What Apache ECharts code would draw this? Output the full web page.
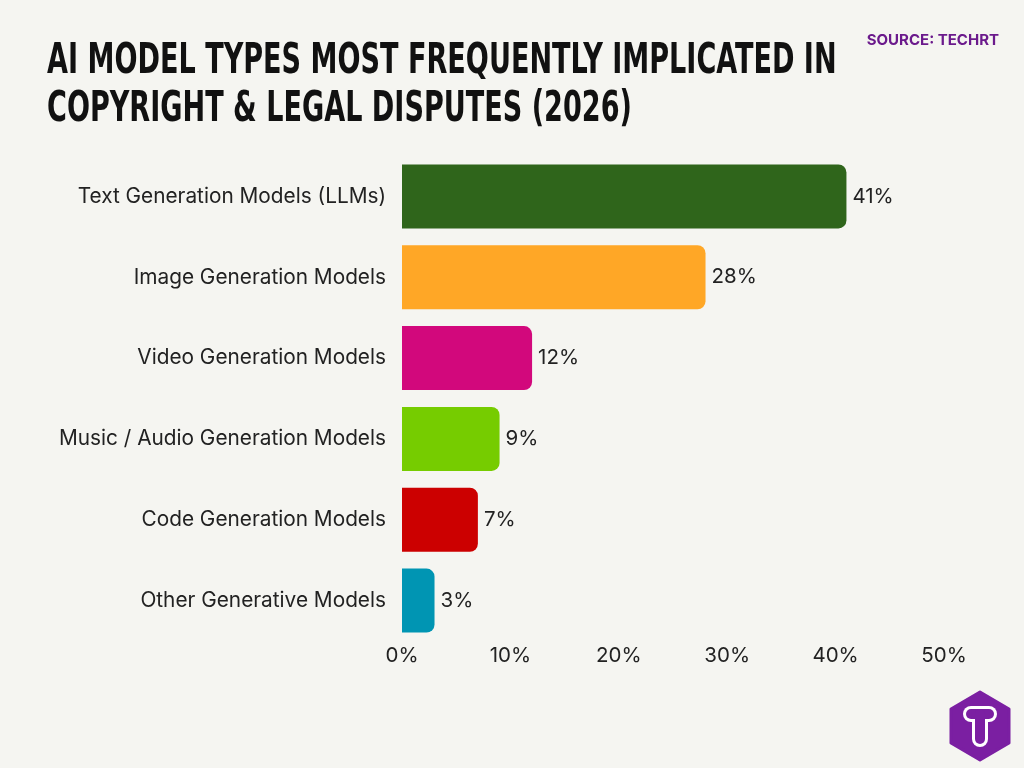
<!DOCTYPE html>
<html><head><meta charset="utf-8">
<script src="https://cdn.jsdelivr.net/npm/echarts@6/dist/echarts.min.js"></script>
<style>html,body{margin:0;padding:0;background:#f5f5f1}#c{width:1024px;height:768px}</style>
</head><body><div id="c"></div>
<script>
const categories = ["Text Generation Models (LLMs)","Image Generation Models","Video Generation Models","Music / Audio Generation Models","Code Generation Models","Other Generative Models"];
const values = [41, 28, 12, 9, 7, 3];
const colors = ["#2f651b","#ffa726","#d2087c","#76cc00","#cc0000","#0095b3"];
const xTicks = [0, 10, 20, 30, 40, 50];

const chart = echarts.init(document.getElementById('c'), null, {renderer:'canvas'});
const FONT = 'Inter, Roboto, sans-serif';
chart.setOption({
  backgroundColor: '#f5f5f1',
  animation: false,
  grid: {left: 402, right: 80, top: 156, bottom: 127, containLabel: false},
  xAxis: {
    type: 'value', min: xTicks[0], max: xTicks[xTicks.length-1], interval: 10,
    axisLine: {show: false}, axisTick: {show: false}, splitLine: {show: false},
    axisLabel: {formatter: v => v + '%', fontFamily: FONT, fontSize: 20.5, color: '#222', margin: 4}
  },
  yAxis: {
    type: 'category', inverse: true, data: categories,
    axisLine: {show: false}, axisTick: {show: false},
    axisLabel: {fontFamily: FONT, fontSize: 20.8, color: '#222', margin: 16}
  },
  series: [{
    type: 'bar', barWidth: 64,
    data: values.map((v, i) => ({value: v, itemStyle: {color: colors[i], borderRadius: [0, 8, 8, 0]}})),
    label: {show: true, position: 'right', distance: 6, formatter: '{c}%', fontFamily: FONT, fontSize: 20.5, color: '#222'}
  }],
  graphic: [
    {type: 'text', x: 47, y: 38, scaleX: 0.717, style: {text: 'AI MODEL TYPES MOST FREQUENTLY IMPLICATED IN\nCOPYRIGHT & LEGAL DISPUTES (2026)', font: 'bold 42px "DejaVu Sans Condensed", "DejaVu Sans", sans-serif', fill: '#111', lineHeight: 48}},
    {type: 'text', x: 999, y: 33, style: {text: 'SOURCE: TECHRT', font: 'bold 15px Inter, Roboto, sans-serif', fill: '#6b1a8c', align: 'right'}},
    {type: 'polygon', shape: {points: [[980,692],[1009,709],[1009,743],[980,760],[951,743],[951,709]], smooth: 0}, style: {fill: '#7b1fa2', stroke: '#7b1fa2', lineWidth: 3, lineJoin: 'round'}},
    {type: 'rect', shape: {x: 963, y: 706, width: 34, height: 16, r: 8}, style: {fill: '#fff'}},
    {type: 'rect', shape: {x: 972, y: 706, width: 16, height: 41, r: 8}, style: {fill: '#fff'}},
    {type: 'rect', shape: {x: 966, y: 709, width: 28, height: 10, r: 5}, style: {fill: '#7b1fa2'}},
    {type: 'rect', shape: {x: 975, y: 709, width: 10, height: 35, r: 5}, style: {fill: '#7b1fa2'}}
  ]
});
</script></body></html>
